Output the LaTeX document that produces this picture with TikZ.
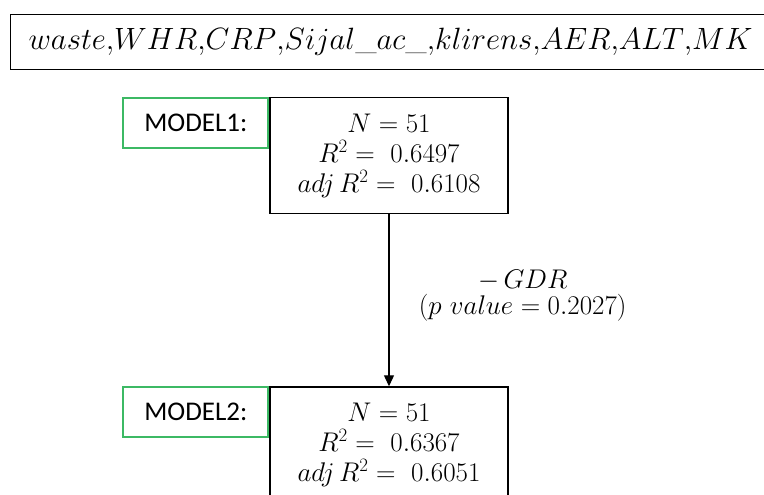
\RequirePackage{fix-cm}
\documentclass[tikz,border=0pt]{standalone}
\usepackage{amsmath}
\usepackage{fontspec}
\newfontfamily\labelfont{Carlito}
\usetikzlibrary{arrows.meta,positioning}
\definecolor{boxgreen}{RGB}{60,185,100}

\begin{document}
\begin{tikzpicture}[x=1pt,y=-1pt,>={Triangle[width=10pt,length=11pt]},
  vars/.style={draw,line width=1.3pt,anchor=north west,text width=750pt,inner xsep=18pt,
    minimum height=55pt,align=left,font=\fontsize{30.8}{36}\selectfont},
  res/.style={draw,line width=1.3pt,minimum width=238pt,minimum height=116pt,align=center,
    font=\fontsize{27}{30}\selectfont},
  lbl/.style={draw=boxgreen,line width=2pt,minimum width=145pt,minimum height=50pt,
    anchor=north east,font=\labelfont\fontsize{27}{30}\selectfont}]
\useasboundingbox (0,0) rectangle (764,495);
\node[vars] (top) at (10,14) {$waste{,}WHR{,}CRP{,}Sijal\_ac\_{,}klirens{,}AER{,}ALT{,}MK$};
\node[res,anchor=north] (m1) at (389,97) {$N=51$\\$R^2=\ 0.6497$\\$adj\,R^2=\ 0.6108$};
\node[lbl] (l1) at (m1.north west) {MODEL1:};
\node[res,below=172pt of m1] (m2) {$N=51$\\$R^2=\ 0.6367$\\$adj\,R^2=\ 0.6051$};
\node[lbl] (l2) at (m2.north west) {MODEL2:};
\draw[->,line width=1.2pt] (m1) -- node[pos=0.47,right=26pt,align=center,font=\fontsize{27}{26}\selectfont]
  {$-\,GDR$\\$(p\ value=0.2027)$} (m2);
\end{tikzpicture}
\end{document}
